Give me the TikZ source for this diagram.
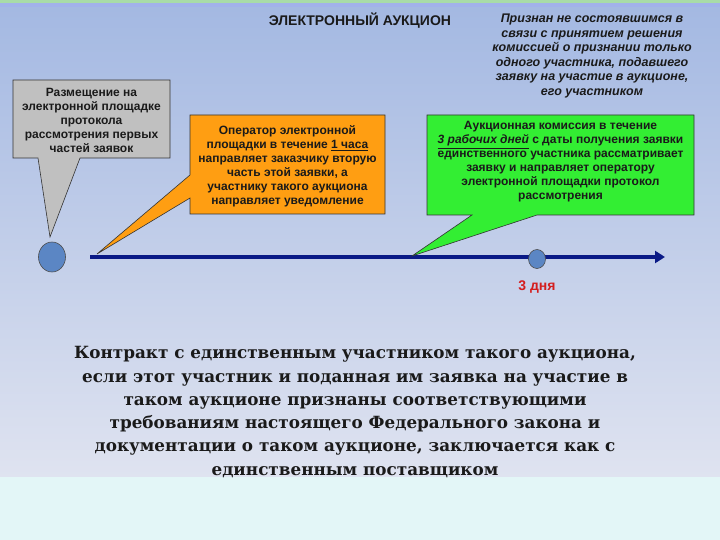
\documentclass[tikz,border=0pt]{standalone}
\usepackage{fontspec}
\setmainfont{Liberation Sans}
\newfontfamily\bigserif{DejaVu Serif}
\usetikzlibrary{arrows.meta,shapes.geometric}
\definecolor{bgtop}{HTML}{A3B8E2}
\definecolor{bgbot}{HTML}{DFE3F0}
\definecolor{bottomstrip}{HTML}{E3F6F7}
\definecolor{topstrip}{HTML}{A8DCA8}
\definecolor{topstrip2}{HTML}{A2B2EA}
\definecolor{grayfill}{HTML}{C0C0C0}
\definecolor{orangefill}{HTML}{FF9E12}
\definecolor{greenfill}{HTML}{33EE33}
\definecolor{linecol}{HTML}{0A1A86}
\definecolor{dotfill}{HTML}{5B86C4}
\definecolor{redtxt}{HTML}{D41E1E}
\definecolor{txt}{HTML}{1A1A1A}
\tikzset{
  callout/.style={draw=black!80, line width=0.6pt},
  boxtext/.style={align=center, text=txt, font=\bfseries\fontsize{12}{14}\selectfont, inner sep=0pt},
  dot/.style={draw=black!70, fill=dotfill, line width=0.6pt},
}
\begin{document}
\begin{tikzpicture}[x=1pt,y=-1pt]
\useasboundingbox (0,0) rectangle (720,540);
\shade[top color=bgtop, bottom color=bgbot] (0,0) rectangle (720,477);
\fill[bottomstrip] (0,477) rectangle (720,540);
\fill[topstrip2] (0,3) rectangle (720,7);
\fill[topstrip] (0,0) rectangle (720,3);

% title
\node[font=\bfseries\fontsize{14}{16}\selectfont, text=txt] (title) at (360,21) {ЭЛЕКТРОННЫЙ АУКЦИОН};

% right italic text
\node[align=center, text=txt, font=\bfseries\itshape\fontsize{12.5}{14.5}\selectfont] (note) at (592,56)
{Признан не состоявшимся в\\связи с принятием решения\\комиссией о признании только\\одного участника, подавшего\\заявку на участие в аукционе,\\его участником};

% timeline
\coordinate (tlstart) at (90,257);
\coordinate (tlend) at (665,257);
\draw[linecol, line width=3.5pt, -{Triangle[length=10pt,width=12pt]}] (tlstart) -- (tlend);

% dots
\node[dot, ellipse, minimum width=27pt, minimum height=30pt, inner sep=0pt] (d0) at (52,257) {};
\node[dot, ellipse, minimum width=17pt, minimum height=19pt, inner sep=0pt] (d3) at (537,259) {};
\node[font=\bfseries\fontsize{14}{16}\selectfont, text=redtxt] (lbl3) at (537,287) {3 дня};

% gray callout
\draw[callout, fill=grayfill] (13,80) -- (170,80) -- (170,158) -- (80,158) -- (50,237) -- (38,158) -- (13,158) -- cycle;
\node[boxtext] (graytext) at (91.5,120) {Размещение на\\электронной площадке\\протокола\\рассмотрения первых\\частей заявок};

% orange callout
\draw[callout, fill=orangefill] (190,115) -- (385,115) -- (385,214) -- (190,214) -- (190,198) -- (97,254) -- (190,175) -- cycle;
\node[boxtext] (orangetext) at (287.5,166) {Оператор электронной\\площадки в течение \underline{1 часа}\\направляет заказчику вторую\\часть этой заявки, а\\участнику такого аукциона\\направляет уведомление};

% green callout
\draw[callout, fill=greenfill] (427,115) -- (694,115) -- (694,215) -- (537,215) -- (412,256) -- (472,215) -- (427,215) -- cycle;
\node[boxtext] (greentext) at (560.5,162) {Аукционная комиссия в течение\\\underline{\itshape 3 рабочих дней} с даты получения заявки\\единственного участника рассматривает\\заявку и направляет оператору\\электронной площадки протокол\\рассмотрения};

% bottom text
\node[align=center, text=txt, font=\bigserif\bfseries\fontsize{16.8}{23.3}\selectfont] (contract) at (355,412)
{Контракт с единственным участником такого аукциона,\\если этот участник и поданная им заявка на участие в\\таком аукционе признаны соответствующими\\требованиям настоящего Федерального закона и\\документации о таком аукционе, заключается как с\\единственным поставщиком};
\end{tikzpicture}
\end{document}
